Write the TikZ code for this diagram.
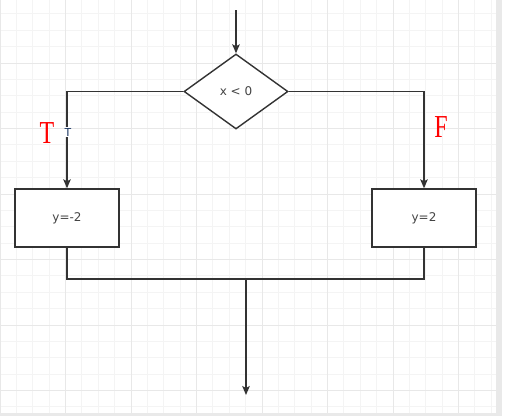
\documentclass[tikz,border=0pt]{standalone}
\usepackage{fontspec}
\setmainfont{DejaVu Sans}
\newfontfamily\serifred{Liberation Serif}
\usetikzlibrary{shapes.geometric,arrows.meta}
\definecolor{lineg}{HTML}{333333}
\definecolor{txtg}{HTML}{444444}
\definecolor{gridminor}{HTML}{F4F4F4}
\definecolor{gridmajor}{HTML}{E8E8E8}
\definecolor{edgegray}{HTML}{E9E9E9}
\definecolor{smallblue}{HTML}{1A3560}
\tikzset{
  flow/.style={draw=lineg, line width=1.4pt},
  arr/.style={flow, -{Stealth[length=9pt,width=7.5pt,inset=2pt]}},
  procbox/.style={draw=lineg, line width=1.4pt, fill=white, minimum width=104pt, minimum height=58pt, inner sep=0pt, font=\fontsize{12}{14}\selectfont, text=txtg},
  decision/.style={diamond, draw=lineg, line width=1.4pt, fill=white, minimum width=104pt, minimum height=75pt, inner sep=0pt, font=\fontsize{12}{14}\selectfont, text=txtg},
  biglabel/.style={text=red, font=\serifred\fontsize{32}{34}\selectfont, inner sep=0pt},
  smalllabel/.style={text=smallblue, fill=white, font=\fontsize{11}{12}\selectfont, inner sep=1pt}
}
\begin{document}
\begin{tikzpicture}[x=1pt,y=-1pt]
\useasboundingbox (0,0) rectangle (509,418);
\fill[white] (0,0) rectangle (509,418);
% grid
\begin{scope}
\clip (0,0) rectangle (496,413);
\foreach \i in {0,...,31} {
  \draw[gridminor, line width=0.8pt] ({\i*16.375},0) -- ({\i*16.375},413);
  \draw[gridminor, line width=0.8pt] (0,{-2.5+\i*16.375}) -- (496,{-2.5+\i*16.375});
}
\foreach \i in {0,...,8} {
  \draw[gridmajor, line width=1pt] ({\i*65.5},0) -- ({\i*65.5},413);
  \draw[gridmajor, line width=1pt] (0,{-2.5+\i*65.5}) -- (496,{-2.5+\i*65.5});
}
\end{scope}
\fill[edgegray] (496,0) rectangle (502,416);
\fill[edgegray] (0,413) rectangle (502,416);
% nodes
\node[decision] (d) at (236,91.5) {x < 0};
\node[procbox] (lb) at (67,218) {y=-2};
\node[procbox] (rb) at (424,218) {y=2};
\coordinate (start) at (236,10);
\coordinate (j) at (246,279);
\coordinate (end) at (246,395);
% connectors
\draw[arr] (start) -- (d.north);
\draw[arr] (d.west) -| (lb.north);
\draw[arr] (d.east) -| (rb.north);
\draw[flow] (lb.south) |- (j) -| (rb.south);
\draw[arr] (j) -- (end);
% labels
\node[smalllabel] (tsmall) at (68,132) {T};
\node[biglabel, xscale=0.75] (tbig) at (47,133) {T};
\node[biglabel, xscale=0.75] (fbig) at (441,127) {F};
\end{tikzpicture}
\end{document}
